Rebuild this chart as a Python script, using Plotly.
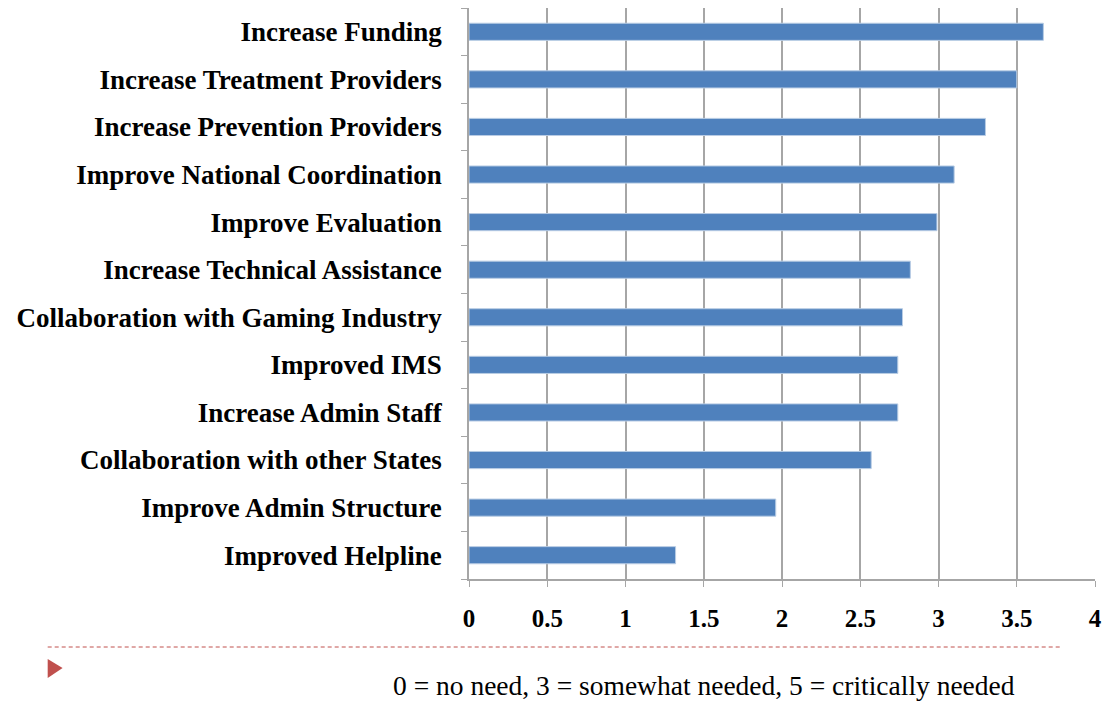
import plotly.graph_objects as go

# Needs ranked by mean rating (top to bottom)
categories = [
    "Increase Funding",
    "Increase Treatment Providers",
    "Increase Prevention Providers",
    "Improve National Coordination",
    "Improve Evaluation",
    "Increase Technical Assistance",
    "Collaboration with Gaming Industry",
    "Improved IMS",
    "Increase Admin Staff",
    "Collaboration with other States",
    "Improve Admin Structure",
    "Improved Helpline",
]
ratings = [3.67, 3.50, 3.30, 3.10, 2.99, 2.82, 2.77, 2.74, 2.74, 2.57, 1.96, 1.32]
x_ticks = [0, 0.5, 1, 1.5, 2, 2.5, 3, 3.5, 4]
x_tick_text = ["0", "0.5", "1", "1.5", "2", "2.5", "3", "3.5", "4"]
scale_note = "0 = no need, 3 = somewhat needed, 5 = critically needed"

W, H = 1108, 702
L, R, T, B = 469, 6, 8, 123
ph = H - T - B
# drawn plot box (slightly inset from the margins by the axis lines)
box_left, box_width = 471, 630


def px_x(p):
    return (p - box_left) / box_width


def px_y(p):
    return 1 - (p - T) / ph


fig = go.Figure(
    go.Bar(
        x=ratings,
        y=categories,
        orientation="h",
        marker=dict(color="#4f81bd", line=dict(color="#b8cce4", width=1)),
        width=0.36,
    )
)

serif = "Liberation Serif"

fig.update_layout(
    width=W,
    height=H,
    margin=dict(l=L, r=R, t=T, b=B),
    paper_bgcolor="white",
    plot_bgcolor="white",
    showlegend=False,
    xaxis=dict(
        range=[0, 4],
        tickvals=x_ticks,
        ticktext=x_tick_text,
        showgrid=True,
        gridcolor="#a6a6a6",
        gridwidth=1.5,
        zeroline=False,
        showline=True,
        linecolor="#a6a6a6",
        linewidth=1.5,
        ticks="outside",
        ticklen=6,
        tickcolor="#a6a6a6",
        tickfont=dict(family=serif, size=25, color="black", weight="bold"),
        ticklabelstandoff=10,
        ticklabeloverflow="allow",
    ),
    yaxis=dict(
        categoryorder="array",
        categoryarray=categories[::-1],
        showline=True,
        linecolor="#a6a6a6",
        linewidth=1.5,
        ticks="outside",
        tickson="boundaries",
        ticklen=6,
        tickcolor="#a6a6a6",
        showgrid=False,
        tickfont=dict(family=serif, size=27, color="black", weight="bold"),
        ticklabelstandoff=20,
    ),
    shapes=[
        dict(
            type="line",
            xref="paper",
            yref="paper",
            x0=px_x(47),
            x1=px_x(1068),
            y0=px_y(647),
            y1=px_y(647),
            line=dict(color="#c0504d", width=1, dash="4px,3px"),
        ),
        dict(
            type="path",
            xref="paper",
            yref="paper",
            path=(
                f"M {px_x(47)},{px_y(659)} L {px_x(62)},{px_y(668)} "
                f"L {px_x(47)},{px_y(678)} Z"
            ),
            fillcolor="#c0504d",
            line=dict(width=0),
        ),
    ],
    annotations=[
        dict(
            text=scale_note,
            xref="paper",
            yref="paper",
            x=px_x(393),
            y=px_y(685),
            xanchor="left",
            yanchor="middle",
            showarrow=False,
            font=dict(family=serif, size=27.5, color="black"),
        )
    ],
)

fig.write_html("out.html")
